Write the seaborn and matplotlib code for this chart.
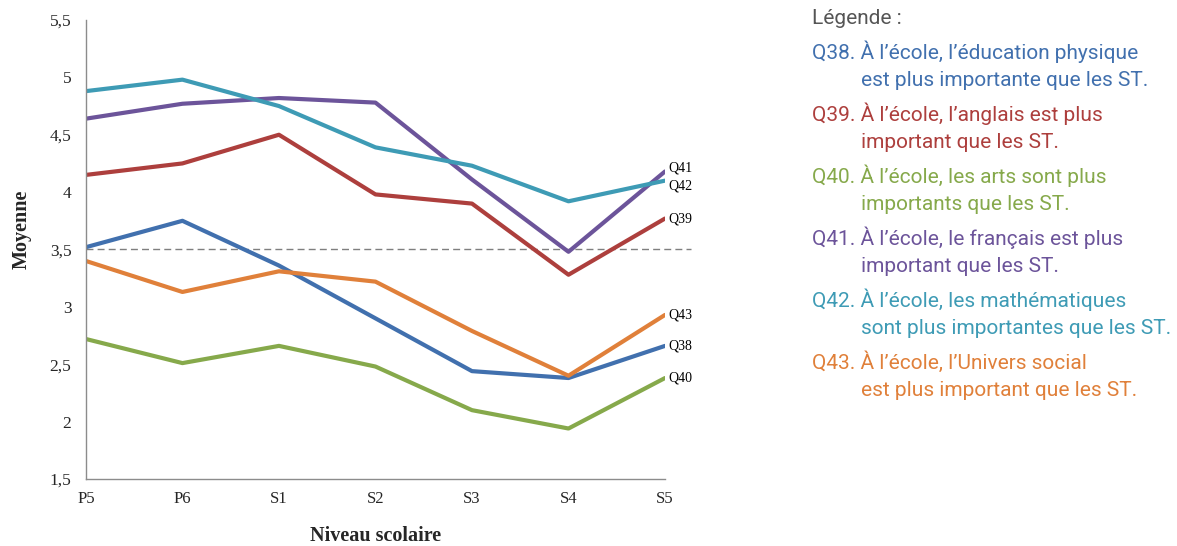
import matplotlib
matplotlib.use("Agg")
import matplotlib.pyplot as plt
import seaborn as sns
import pandas as pd

levels = ["P5", "P6", "S1", "S2", "S3", "S4", "S5"]
q38 = [3.52, 3.75, 3.36, 2.90, 2.44, 2.38, 2.66]
q39 = [4.15, 4.25, 4.50, 3.98, 3.90, 3.28, 3.77]
q40 = [2.72, 2.51, 2.66, 2.48, 2.10, 1.94, 2.38]
q41 = [4.64, 4.77, 4.82, 4.78, 4.11, 3.48, 4.18]
q42 = [4.88, 4.98, 4.75, 4.39, 4.23, 3.92, 4.10]
q43 = [3.40, 3.13, 3.31, 3.22, 2.79, 2.40, 2.93]
series_names = ["Q38", "Q39", "Q40", "Q41", "Q42", "Q43"]
colors = ["#4170ae", "#ad3f3d", "#86a94b", "#6c549a", "#3e9bb5", "#e0803a"]
legend_texts = [
    ("Q38. À l’école, l’éducation physique", "est plus importante que les ST."),
    ("Q39. À l’école, l’anglais est plus", "important que les ST."),
    ("Q40. À l’école, les arts sont plus", "importants que les ST."),
    ("Q41. À l’école, le français est plus", "important que les ST."),
    ("Q42. À l’école, les mathématiques", "sont plus importantes que les ST."),
    ("Q43. À l’école, l’Univers social", "est plus important que les ST."),
]
y_ticks = [1.5, 2, 2.5, 3, 3.5, 4, 4.5, 5, 5.5]
y_tick_labels = ["1,5", "2", "2,5", "3", "3,5", "4", "4,5", "5", "5,5"]
threshold = 3.5
label_offsets = {"Q41": 0.03, "Q42": -0.05, "Q39": 0.0, "Q43": 0.0, "Q38": 0.0, "Q40": 0.0}

sns.set_style("white")
plt.rcParams["font.family"] = ["Liberation Serif", "DejaVu Serif"]

all_vals = [q38, q39, q40, q41, q42, q43]
rows = []
for name, vals in zip(series_names, all_vals):
    for i, (lv, v) in enumerate(zip(levels, vals)):
        rows.append({"x": i, "Niveau": lv, "Moyenne": v, "Question": name})
df = pd.DataFrame(rows)

fig = plt.figure(figsize=(11.77, 5.46), dpi=100)
ax = fig.add_axes([0.073, 0.1227, 0.492, 0.8407])

sns.lineplot(data=df, x="x", y="Moyenne", hue="Question", palette=dict(zip(series_names, colors)),
             linewidth=3, ax=ax, legend=False, sort=False)

ax.plot([0, 6.27], [threshold, threshold], linestyle=(0, (5, 3)), color="#7f7f7f",
        linewidth=1, clip_on=False, zorder=0)

ax.set_xlim(0, 6)
ax.set_ylim(1.5, 5.5)
ax.set_xticks(range(len(levels)))
ax.set_xticklabels(levels, fontsize=12)
ax.set_yticks(y_ticks)
ax.set_yticklabels(y_tick_labels, fontsize=12.5)
for s in ["top", "right"]:
    ax.spines[s].set_visible(False)
for s in ["left", "bottom"]:
    ax.spines[s].set_color("#8c8c8c")
    ax.spines[s].set_linewidth(1)
ax.tick_params(axis="both", which="both", length=5, color="#8c8c8c", direction="inout", pad=3)
ax.tick_params(axis="y", pad=8)
ax.tick_params(axis="x", pad=6)
ax.set_xlabel("Niveau scolaire", fontsize=14.5, fontweight="bold", labelpad=14)
ax.set_ylabel("Moyenne", fontsize=14.5, fontweight="bold")
ax.yaxis.set_label_coords(-0.093, 0.545)

for name, vals in zip(series_names, all_vals):
    ax.text(6.03, vals[-1] + label_offsets[name], name, fontsize=10, va="center", ha="left",
            clip_on=False, color="black")

fam = ["Roboto", "DejaVu Sans"]
fig.text(812 / 1177, 1 - 18 / 546, "Légende :", fontsize=15, color="#555555", family=fam,
         va="center", ha="left")
y0 = 52
for (line1, line2), col in zip(legend_texts, colors):
    fig.text(812 / 1177, 1 - y0 / 546, line1, fontsize=15, color=col, family=fam, va="center", ha="left")
    fig.text(861 / 1177, 1 - (y0 + 28) / 546, line2, fontsize=15, color=col, family=fam, va="center", ha="left")
    y0 += 62

fig.savefig("out.png", dpi=100)
